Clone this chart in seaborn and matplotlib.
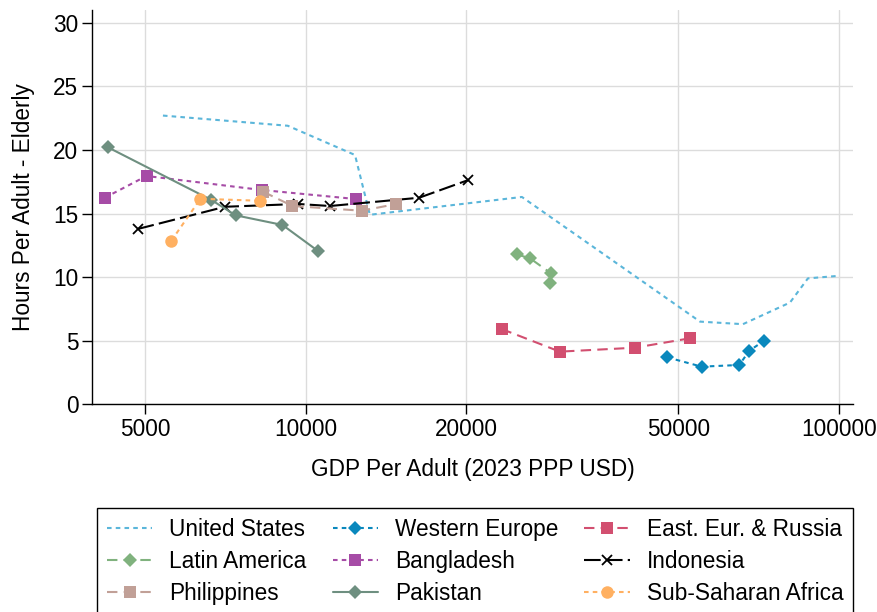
import pandas as pd
import seaborn as sns
import matplotlib.pyplot as plt
from matplotlib.ticker import FixedLocator, FixedFormatter, NullLocator

# ---------------------------------------------------------
# data
# ---------------------------------------------------------
us_gdp = [5400, 9260, 12380, 13200, 25460, 54950, 66140, 81050, 87570, 100000]
us_hours = [22.7, 21.9, 19.6, 14.9, 16.3, 6.5, 6.3, 8.0, 9.9, 10.1]

weur_gdp = [47700, 55330, 65100, 67970, 72500]
weur_hours = [3.69, 2.96, 3.09, 4.21, 5.0]

eeur_gdp = [23320, 29990, 41480, 52600]
eeur_hours = [5.92, 4.14, 4.45, 5.19]

latam_gdp = [24880, 26360, 28860, 28730]
latam_hours = [11.79, 11.48, 10.3, 9.56]

bgd_gdp = [4200, 5030, 8270, 12410]
bgd_hours = [16.24, 17.95, 16.85, 16.14]

idn_gdp = [4840, 7060, 9685, 11110, 16330, 20190]
idn_hours = [13.78, 15.53, 15.75, 15.59, 16.24, 17.63]

phl_gdp = [8330, 9450, 12750, 14810]
phl_hours = [16.71, 15.59, 15.22, 15.75]

pak_gdp = [4260, 6660, 7390, 9050, 10530]
pak_hours = [20.2, 16.06, 14.86, 14.1, 12.08]

ssa_gdp = [5600, 6350, 8230]
ssa_hours = [12.86, 16.16, 16.0]

x_ticks = [5000, 10000, 20000, 50000, 100000]
x_tick_labels = ["5000", "10000", "20000", "50000", "100000"]

# ---------------------------------------------------------
# styles
# ---------------------------------------------------------
series = [
    ("United States", us_gdp, us_hours, "#5bb6da", "", (0, (2.2, 2.0)), 7),
    ("Western Europe", weur_gdp, weur_hours, "#0a88bd", "D", (0, (2.2, 2.0)), 7.5),
    ("East. Eur. & Russia", eeur_gdp, eeur_hours, "#d24f70", "s", (0, (5, 3)), 8),
    ("Latin America", latam_gdp, latam_hours, "#80b27e", "D", (0, (5, 3)), 7.5),
    ("Bangladesh", bgd_gdp, bgd_hours, "#a64ca6", "s", (0, (2.2, 2.0)), 8),
    ("Indonesia", idn_gdp, idn_hours, "#000000", "x", (0, (8, 2.5)), 7.5),
    ("Philippines", phl_gdp, phl_hours, "#c1a097", "s", (0, (5, 3)), 8),
    ("Pakistan", pak_gdp, pak_hours, "#6e8f80", "D", "-", 7.5),
    ("Sub-Saharan Africa", ssa_gdp, ssa_hours, "#ffb061", "o", (0, (2.2, 2.0)), 9),
]

FS = 16.3

sns.set_theme(style="whitegrid", rc={
    "grid.color": "#dcdcdc",
    "grid.linewidth": 1.0,
    "axes.edgecolor": "#000000",
    "axes.linewidth": 1.0,
    "text.color": "#000000",
    "axes.labelcolor": "#000000",
    "xtick.color": "#000000",
    "ytick.color": "#000000",
})
plt.rcParams["font.family"] = ["Liberation Sans", "DejaVu Sans"]

fig = plt.figure(figsize=(8.78, 6.12), dpi=100)
ax = fig.add_axes([92.3 / 878, 1 - 404.3 / 612, (853 - 92.3) / 878, (404.3 - 10) / 612])

for name, gx, gy, col, mk, ls, ms in series:
    df = pd.DataFrame({"gdp": gx, "hours": gy})
    kw = dict(color=col, linestyle=ls, linewidth=1.5, label=name)
    if mk:
        kw.update(marker=mk, markersize=ms)
        if mk == "x":
            kw.update(markeredgecolor=col, markeredgewidth=1.3)
        else:
            kw.update(markeredgecolor=col, markeredgewidth=0)
    sns.lineplot(data=df, x="gdp", y="hours", ax=ax, sort=False, estimator=None, **kw)

ax.set_xscale("log")
ax.set_xlim(3980, 106400)
ax.set_ylim(0, 31)
ax.xaxis.set_major_locator(FixedLocator(x_ticks))
ax.xaxis.set_major_formatter(FixedFormatter(x_tick_labels))
ax.xaxis.set_minor_locator(NullLocator())
ax.set_yticks([0, 5, 10, 15, 20, 25, 30])

for s in ["top", "right"]:
    ax.spines[s].set_visible(False)

ax.tick_params(axis="both", which="major", direction="out", length=7, width=1,
               labelsize=FS, pad=3, left=True, bottom=True)
ax.set_xlabel("GDP Per Adult (2023 PPP USD)", fontsize=FS, labelpad=12)
ax.set_ylabel("Hours Per Adult - Elderly", fontsize=FS, labelpad=13)

# legend, filled column-wise -> reorder so rows read as in the original
handles, labels = ax.get_legend_handles_labels()
ax.get_legend().remove()
order = [0, 3, 6, 1, 4, 7, 2, 5, 8]
leg = fig.legend([handles[i] for i in order], [labels[i] for i in order],
                 ncol=3, loc="upper left", bbox_to_anchor=(97 / 878, 1 - 508 / 612),
                 fontsize=FS, frameon=True, fancybox=False, framealpha=1,
                 edgecolor="#000000", handlelength=2.0, handletextpad=0.75,
                 columnspacing=1.15, labelspacing=0.4, borderpad=0.45,
                 borderaxespad=0)
leg.get_frame().set_linewidth(1.0)

fig.savefig("out.png", dpi=100)
